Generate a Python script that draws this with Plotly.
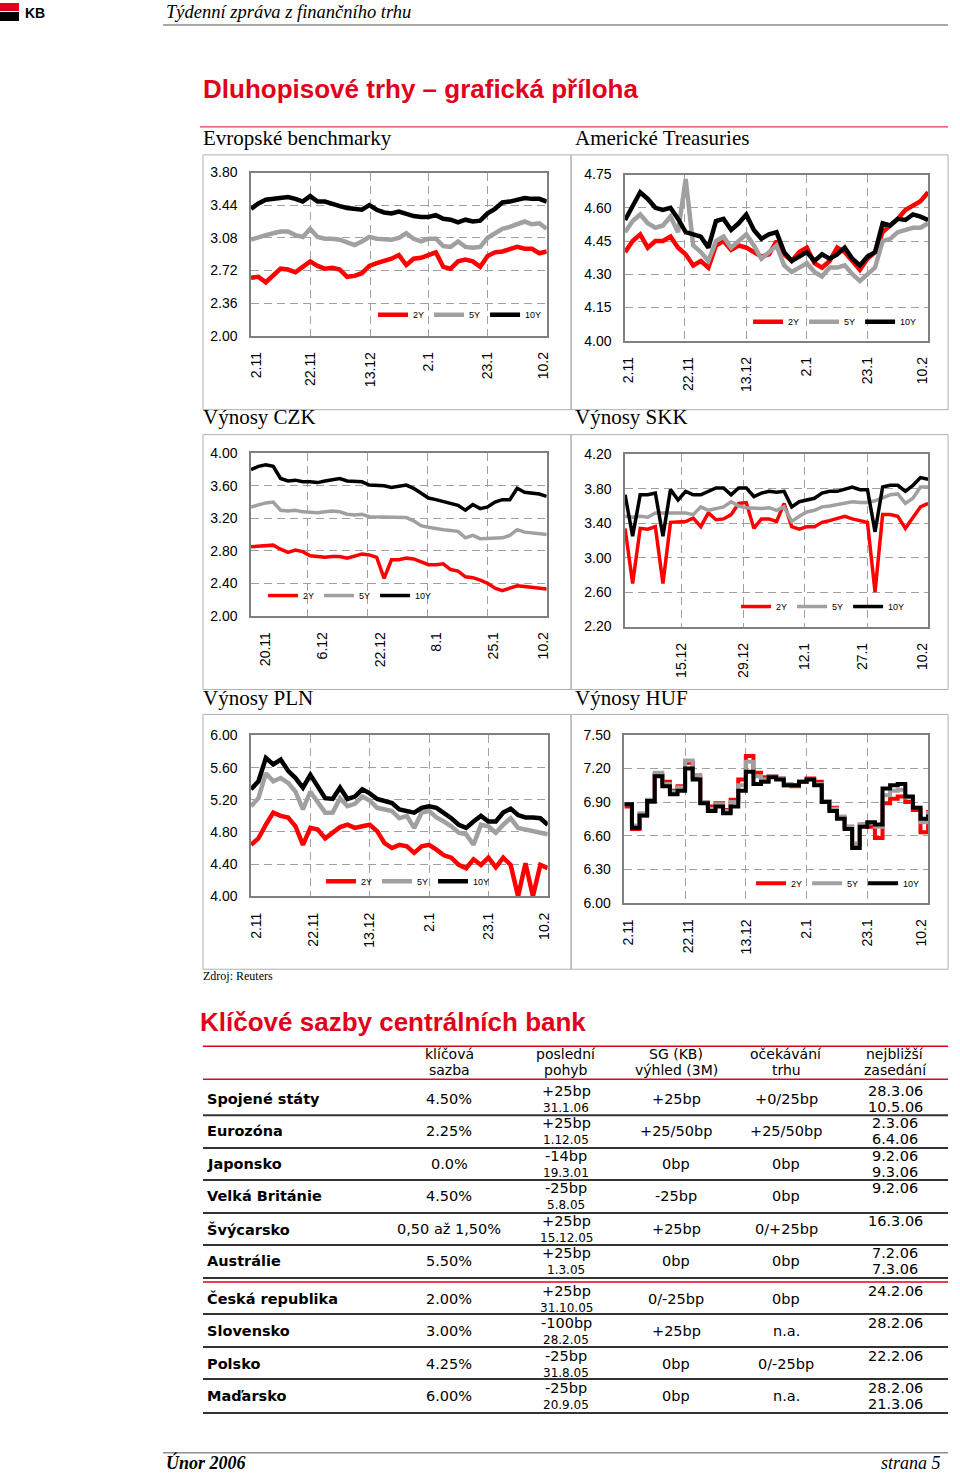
import plotly.graph_objects as go

W, H = 960, 1484
# calibration of the page photograph (offset / scale observed in the rendering)
OX, OY, SX, SY = 5.0, 6.0, 0.9895, 0.990
def px(x): return ((x - OX) / SX) / W
def py(y): return 1 - ((y - OY) / SY) / H

SANS = "Liberation Sans, Arial, sans-serif"
SERIF = "Liberation Serif, Times New Roman, serif"
TABLE_FONT = "DejaVu Sans, Liberation Sans, sans-serif"
RED = "#e3001b"
GRID = "#a0a0a0"

SERIES_NAMES = ["2Y", "5Y", "10Y"]
SERIES_COLORS = ["#ff0000", "#a0a0a0", "#000000"]

# ---------------- data ----------------
eur_xlabels = ["2.11", "22.11", "13.12", "2.1", "23.1", "10.2"]
eur_yticks = [2.00, 2.36, 2.72, 3.08, 3.44, 3.80]
eur_2y = [2.64,2.65,2.59,2.66,2.74,2.73,2.70,2.76,2.82,2.77,2.74,2.75,2.73,2.65,2.66,2.69,2.77,2.80,2.82,2.85,
          2.89,2.78,2.85,2.86,2.89,2.92,2.76,2.74,2.82,2.84,2.82,2.76,2.88,2.92,2.93,2.96,2.98,2.96,2.96,2.91,2.93]
eur_5y = [3.06,3.09,3.11,3.13,3.15,3.15,3.11,3.09,3.18,3.09,3.07,3.07,3.06,3.03,3.00,3.04,3.09,3.07,3.06,3.06,
          3.08,3.13,3.07,3.04,3.07,3.07,2.99,2.98,3.04,2.98,2.97,2.98,3.08,3.13,3.18,3.20,3.23,3.26,3.23,3.24,3.18]
eur_10y = [3.40,3.46,3.50,3.51,3.51,3.53,3.51,3.48,3.54,3.48,3.48,3.45,3.43,3.41,3.40,3.39,3.44,3.39,3.36,3.35,
           3.37,3.34,3.32,3.31,3.31,3.33,3.29,3.28,3.25,3.28,3.26,3.27,3.35,3.40,3.47,3.48,3.50,3.52,3.51,3.51,3.48]

us_xlabels = ["2.11", "22.11", "13.12", "2.1", "23.1", "10.2"]
us_yticks = [4.00, 4.15, 4.30, 4.45, 4.60, 4.75]
us_2y = [4.40,4.45,4.48,4.42,4.45,4.45,4.47,4.42,4.39,4.34,4.36,4.33,4.43,4.45,4.41,4.43,4.42,4.40,4.38,4.39,
         4.45,4.39,4.36,4.40,4.42,4.35,4.33,4.36,4.42,4.40,4.36,4.32,4.37,4.40,4.49,4.52,4.55,4.59,4.61,4.63,4.67]
us_5y = [4.49,4.54,4.57,4.53,4.51,4.52,4.56,4.49,4.73,4.43,4.40,4.36,4.45,4.47,4.42,4.45,4.48,4.43,4.37,4.40,
         4.43,4.34,4.31,4.33,4.35,4.31,4.29,4.33,4.33,4.34,4.30,4.27,4.30,4.33,4.45,4.46,4.49,4.50,4.51,4.51,4.53]
us_10y = [4.545,4.61,4.67,4.64,4.60,4.59,4.60,4.55,4.49,4.48,4.47,4.42,4.54,4.55,4.50,4.53,4.57,4.50,4.46,4.48,
          4.49,4.40,4.36,4.38,4.40,4.36,4.39,4.37,4.39,4.42,4.37,4.34,4.38,4.40,4.53,4.52,4.55,4.545,4.57,4.56,4.545]

czk_xlabels = ["20.11", "6.12", "22.12", "8.1", "25.1", "10.2"]
czk_yticks = [2.00, 2.40, 2.80, 3.20, 3.60, 4.00]
czk_2y = [2.85,2.86,2.86,2.87,2.82,2.78,2.81,2.79,2.74,2.73,2.72,2.73,2.73,2.71,2.74,2.76,2.75,2.72,2.46,2.69,
          2.69,2.71,2.70,2.66,2.63,2.63,2.64,2.57,2.55,2.48,2.47,2.44,2.40,2.34,2.31,2.34,2.37,2.36,2.35,2.34,2.33]
czk_5y = [3.34,3.37,3.39,3.40,3.30,3.29,3.30,3.28,3.27,3.27,3.28,3.29,3.28,3.25,3.24,3.25,3.22,3.22,3.22,3.22,
          3.21,3.21,3.17,3.11,3.09,3.07,3.06,3.05,3.04,2.96,2.99,2.95,2.95,2.96,2.96,2.99,3.06,3.03,3.02,3.00,3.00]
czk_10y = [3.80,3.84,3.86,3.84,3.69,3.66,3.67,3.65,3.65,3.64,3.66,3.68,3.69,3.66,3.65,3.65,3.61,3.61,3.60,3.58,
           3.59,3.61,3.57,3.51,3.45,3.43,3.41,3.38,3.36,3.30,3.37,3.32,3.34,3.40,3.43,3.43,3.57,3.52,3.51,3.50,3.47]

skk_xlabels = ["15.12", "29.12", "12.1", "27.1", "10.2"]
skk_yticks = [2.20, 2.60, 3.00, 3.40, 3.80, 4.20]
skk_2y = [3.34,2.70,3.34,3.33,3.36,2.70,3.41,3.41,3.42,3.46,3.36,3.52,3.44,3.45,3.50,3.63,3.64,3.34,3.45,3.45,
          3.42,3.63,3.36,3.33,3.36,3.36,3.41,3.43,3.46,3.48,3.45,3.43,3.41,2.60,3.50,3.50,3.48,3.34,3.46,3.59,3.63]
skk_5y = [3.48,3.47,3.48,3.47,3.52,3.52,3.53,3.53,3.52,3.50,3.59,3.55,3.57,3.59,3.65,3.60,3.58,3.57,3.57,3.58,
          3.55,3.59,3.42,3.48,3.53,3.55,3.59,3.60,3.62,3.63,3.65,3.64,3.64,3.66,3.69,3.73,3.74,3.63,3.69,3.82,3.82]
skk_10y = [3.73,3.25,3.73,3.73,3.75,3.25,3.79,3.67,3.77,3.73,3.73,3.77,3.81,3.81,3.73,3.81,3.81,3.71,3.75,3.77,
           3.76,3.77,3.59,3.65,3.67,3.69,3.75,3.77,3.77,3.80,3.82,3.79,3.79,3.30,3.82,3.84,3.84,3.77,3.84,3.93,3.91]

pln_xlabels = ["2.11", "22.11", "13.12", "2.1", "23.1", "10.2"]
pln_yticks = [4.00, 4.40, 4.80, 5.20, 5.60, 6.00]
pln_2y = [4.64,4.72,4.89,5.04,5.00,4.98,4.87,4.64,4.85,4.83,4.72,4.79,4.86,4.89,4.85,4.87,4.89,4.81,4.66,4.60,
          4.64,4.62,4.54,4.62,4.64,4.58,4.51,4.48,4.39,4.35,4.46,4.39,4.48,4.36,4.48,4.39,4.00,4.41,4.00,4.39,4.35]
pln_5y = [5.12,5.22,5.53,5.43,5.47,5.41,5.30,5.08,5.30,5.18,5.04,5.04,5.22,5.12,5.15,5.24,5.19,5.10,5.08,5.06,
          4.97,5.00,4.85,5.04,5.06,4.98,4.93,4.87,4.79,4.77,4.64,4.89,4.87,4.79,4.89,4.97,4.85,4.83,4.81,4.79,4.77]
pln_10y = [5.33,5.43,5.72,5.64,5.70,5.56,5.47,5.35,5.51,5.37,5.22,5.21,5.35,5.21,5.24,5.33,5.28,5.21,5.19,5.16,
           5.08,5.06,5.04,5.10,5.12,5.10,5.04,4.97,4.89,4.85,4.93,5.00,4.93,4.93,5.04,5.09,5.01,4.98,4.98,4.97,4.89]

huf_xlabels = ["2.11", "22.11", "13.12", "2.1", "23.1", "10.2"]
huf_yticks = [6.00, 6.30, 6.60, 6.90, 7.20, 7.50]
huf_2y = [6.86,6.66,6.78,6.90,7.14,7.08,7.00,7.04,7.25,7.12,6.90,6.86,6.89,6.83,6.92,7.10,7.31,7.16,7.12,7.13,
          7.11,7.05,7.04,7.08,7.11,7.08,6.91,6.85,6.76,6.68,6.52,6.70,6.68,6.58,6.89,6.93,6.95,6.90,6.83,6.63,6.83]
huf_5y = [6.88,6.69,6.80,6.92,7.16,7.06,6.99,7.03,7.27,7.14,6.90,6.84,6.88,6.82,6.90,7.05,7.26,7.13,7.10,7.13,
          7.11,7.06,7.05,7.08,7.10,7.06,6.91,6.84,6.77,6.68,6.53,6.70,6.71,6.68,6.96,7.00,7.01,6.94,6.85,6.72,6.82]
huf_10y = [6.88,6.67,6.78,6.91,7.13,7.04,6.97,7.00,7.20,7.10,6.89,6.82,6.86,6.80,6.86,7.00,7.17,7.06,7.08,7.12,
           7.10,7.05,7.05,7.08,7.10,7.05,6.90,6.82,6.75,6.66,6.49,6.68,6.72,6.70,7.02,7.05,7.06,6.95,6.85,6.75,6.79]

chart_titles = ["Evropské benchmarky", "Americké Treasuries", "Výnosy CZK", "Výnosy SKK", "Výnosy PLN", "Výnosy HUF"]

# table data
tbl_headers = [("klíčová", "sazba"), ("poslední", "pohyb"), ("SG (KB)", "výhled (3M)"),
               ("očekávání", "trhu"), ("nejbližší", "zasedání")]
countries = ["Spojené státy", "Eurozóna", "Japonsko", "Velká Británie", "Švýcarsko", "Austrálie",
             "Česká republika", "Slovensko", "Polsko", "Maďarsko"]
key_rate = ["4.50%", "2.25%", "0.0%", "4.50%", "0,50 až 1,50%", "5.50%", "2.00%", "3.00%", "4.25%", "6.00%"]
last_move = ["+25bp", "+25bp", "-14bp", "-25bp", "+25bp", "+25bp", "+25bp", "-100bp", "-25bp", "-25bp"]
last_move_date = ["31.1.06", "1.12.05", "19.3.01", "5.8.05", "15.12.05", "1.3.05", "31.10.05", "28.2.05",
                  "31.8.05", "20.9.05"]
sg_outlook = ["+25bp", "+25/50bp", "0bp", "-25bp", "+25bp", "0bp", "0/-25bp", "+25bp", "0bp", "0bp"]
market_exp = ["+0/25bp", "+25/50bp", "0bp", "0bp", "0/+25bp", "0bp", "0bp", "n.a.", "0/-25bp", "n.a."]
next_meeting = [["28.3.06", "10.5.06"], ["2.3.06", "6.4.06"], ["9.2.06", "9.3.06"], ["9.2.06"], ["16.3.06"],
                ["7.2.06", "7.3.06"], ["24.2.06"], ["28.2.06"], ["22.2.06"], ["28.2.06", "21.3.06"]]

# ---------------- layout config ----------------
charts = [
    dict(series=[eur_2y, eur_5y, eur_10y], yticks=eur_yticks, xlabels=eur_xlabels,
         plot=(251, 546.7, 170.7, 334), labelpos=[0.7, 8.1, 16.1, 24.0, 32.0, 39.5],
         grid=[8.0, 16.1, 24.0, 32.0], legend=(380, 313), shape="linear", lw=4.5),
    dict(series=[us_2y, us_5y, us_10y], yticks=us_yticks, xlabels=us_xlabels,
         plot=(625, 928, 172.7, 339), labelpos=[0.45, 8.35, 16.0, 24.0, 32.0, 39.3],
         grid=[7.9, 16.0, 24.0, 32.0], legend=(755, 320), shape="linear", lw=4.5),
    dict(series=[czk_2y, czk_5y, czk_10y], yticks=czk_yticks, xlabels=czk_xlabels,
         plot=(251, 546.7, 451.7, 614.3), labelpos=[1.9, 9.6, 17.45, 25.1, 32.8, 39.5],
         grid=[7.6, 15.7, 23.9, 32.0], legend=(270, 594), shape="linear", lw=3.5),
    dict(series=[skk_2y, skk_5y, skk_10y], yticks=skk_yticks, xlabels=skk_xlabels,
         plot=(625, 928, 452.7, 625), labelpos=[7.47, 15.6, 23.7, 31.4, 39.3],
         grid=[7.47, 15.6, 23.7, 32.0], legend=(743, 605), shape="linear", lw=3.5),
    dict(series=[pln_2y, pln_5y, pln_10y], yticks=pln_yticks, xlabels=pln_xlabels,
         plot=(251, 547.7, 734, 895), labelpos=[0.67, 8.4, 16.0, 24.1, 32.0, 39.6],
         grid=[7.96, 16.0, 24.0, 32.0], legend=(328, 880), shape="linear", lw=4.5),
    dict(series=[huf_2y, huf_5y, huf_10y], yticks=huf_yticks, xlabels=huf_xlabels,
         plot=(624.3, 928, 733.3, 901.7), labelpos=[0.53, 8.4, 16.1, 24.0, 32.0, 39.1],
         grid=[8.0, 16.0, 24.0, 32.0], legend=(758, 882), shape="hv", lw=4),
]

fig = go.Figure()
layout = dict(width=W, height=H, margin=dict(l=0, r=0, t=0, b=0),
              paper_bgcolor="white", plot_bgcolor="white", showlegend=True)

for k, ch in enumerate(charts, start=1):
    sfx = "" if k == 1 else str(k)
    leg = "legend" if k == 1 else f"legend{k}"
    for name, color, vals in zip(SERIES_NAMES, SERIES_COLORS, ch["series"]):
        fig.add_trace(go.Scatter(
            x=list(range(len(vals))), y=vals, mode="lines", name=name,
            line=dict(color=color, width=ch["lw"], shape=ch["shape"]),
            xaxis="x" + sfx, yaxis="y" + sfx, legend=leg, hoverinfo="skip"))
    l, r, t, b = ch["plot"]
    n = len(ch["series"][0]) - 1
    layout["xaxis" + sfx] = dict(
        domain=[px(l), px(r)], anchor="y" + sfx, range=[0, n],
        tickmode="array", tickvals=ch["labelpos"], ticktext=ch["xlabels"], tickangle=-90,
        tickfont=dict(family=SANS, size=14, color="black"), ticks="", ticklabelstandoff=9,
        showgrid=False, zeroline=False, showline=True, mirror=True,
        linecolor="#808080", linewidth=1.5, fixedrange=True,
        minor=dict(tickmode="array", tickvals=ch["grid"], showgrid=True,
                   gridcolor=GRID, griddash="8px,5px", gridwidth=1, ticks=""))
    yt = ch["yticks"]
    layout["yaxis" + sfx] = dict(
        domain=[py(b), py(t)], anchor="x" + sfx, range=[yt[0], yt[-1]],
        tickmode="array", tickvals=yt, ticktext=[f"{v:.2f}" for v in yt],
        tickfont=dict(family=SANS, size=14, color="black"), ticks="", ticklabelstandoff=9,
        showgrid=True, gridcolor=GRID, griddash="8px,5px", gridwidth=1,
        zeroline=False, showline=True, mirror=True, linecolor="#808080", linewidth=1.5,
        fixedrange=True)
    lx, ly = ch["legend"]
    layout[leg] = dict(x=px(lx - 7), y=py(ly), xanchor="left", yanchor="middle",
                       orientation="h", bgcolor="rgba(0,0,0,0)", borderwidth=0,
                       font=dict(family=SANS, size=9, color="black"),
                       itemwidth=30, tracegroupgap=0, traceorder="normal")

shapes = []
annotations = []

def line(x0, y0, x1, y1, color, width=1):
    shapes.append(dict(type="line", xref="paper", yref="paper", x0=px(x0), y0=py(y0),
                       x1=px(x1), y1=py(y1), line=dict(color=color, width=width)))

def rect(x0, y0, x1, y1, color, width=1, fill=None):
    shapes.append(dict(type="rect", xref="paper", yref="paper", x0=px(x0), y0=py(y0),
                       x1=px(x1), y1=py(y1), line=dict(color=color, width=width),
                       fillcolor=fill if fill else "rgba(0,0,0,0)", layer="below"))

def text(x, y, s, size, family=SANS, color="black", anchor="left", yanchor="middle", yfrac=None):
    annotations.append(dict(x=px(x), y=py(y) if yfrac is None else yfrac, xref="paper", yref="paper",
                            text=s, showarrow=False, xanchor=anchor, yanchor=yanchor,
                            font=dict(family=family, size=size, color=color)))

# header
rect(0, 1, 19, 9, RED, 0, RED)
rect(0, 10, 19, 19, "black", 0, "black")
text(23, 11, "<b>KB</b>", 14)
text(164, 10, "<i>Týdenní zpráva z finančního trhu</i>", 18.5, SERIF)
line(163, 23, 948, 23, "#555555", 1)

# title
text(201, 87, "<b>Dluhopisové trhy – grafická příloha</b>", 26, SANS, RED)
line(200, 125, 948, 125, RED, 1)

# chart boxes and headings
heading_y = [136, 415, 697]
box_top = [153, 433, 713]
for row in range(3):
    text(201, heading_y[row], chart_titles[2 * row], 21, SERIF)
    text(573, heading_y[row], chart_titles[2 * row + 1], 21, SERIF)
    rect(203, box_top[row], 571, box_top[row] + 255, "#b0b0b0", 1)
    rect(571, box_top[row], 948, box_top[row] + 255, "#b0b0b0", 1)

text(201, 975, "Zdroj: Reuters", 12, SERIF)

# table
text(198, 1021, "<b>Klíčové sazby centrálních bank</b>", 26, SANS, RED)
line(203, 1045, 948, 1045, RED, 1.5)
line(203, 1078, 948, 1078, RED, 1.5)
col_x = [449, 566, 676, 786, 895]
for cx, (h1, h2) in zip(col_x, tbl_headers):
    text(cx, 1053, h1, 14, TABLE_FONT, anchor="center")
    text(cx, 1069, h2, 14, TABLE_FONT, anchor="center")

row_y = [1098, 1130, 1163, 1195, 1228, 1260, 1298, 1330, 1363, 1395]
for i, yc in enumerate(row_y):
    text(205, yc, f"<b>{countries[i]}</b>", 14.5, TABLE_FONT)
    text(col_x[0], yc, key_rate[i], 14.5, TABLE_FONT, anchor="center")
    text(col_x[1], yc - 8, last_move[i], 14.5, TABLE_FONT, anchor="center")
    text(col_x[1], yc + 9, last_move_date[i], 12, TABLE_FONT, anchor="center")
    text(col_x[2], yc, sg_outlook[i], 14.5, TABLE_FONT, anchor="center")
    text(col_x[3], yc, market_exp[i], 14.5, TABLE_FONT, anchor="center")
    for j, d in enumerate(next_meeting[i]):
        text(col_x[4], yc - 8 + 16 * j, d, 14.5, TABLE_FONT, anchor="center")

sep_y = [1114, 1147, 1179, 1212, 1244, 1277, 1313, 1346, 1378, 1412]
for yy in sep_y:
    line(203, yy, 948, yy, "#333333", 2)
line(203, 1281, 948, 1281, RED, 1.5)

# footer (kept fully inside the page)
line(163, 1452, 948, 1452, "#555555", 1)
text(164, 0, "<b><i>Únor 2006</i></b>", 18, SERIF, yanchor="bottom", yfrac=0.001)
text(943, 0, "<i>strana 5</i>", 18, SERIF, anchor="right", yanchor="bottom", yfrac=0.001)

layout["shapes"] = shapes
layout["annotations"] = annotations
fig.update_layout(**layout)
fig.write_html("out.html", config={"displayModeBar": False},
               post_script="document.body.style.margin='0';document.body.style.padding='0';")
